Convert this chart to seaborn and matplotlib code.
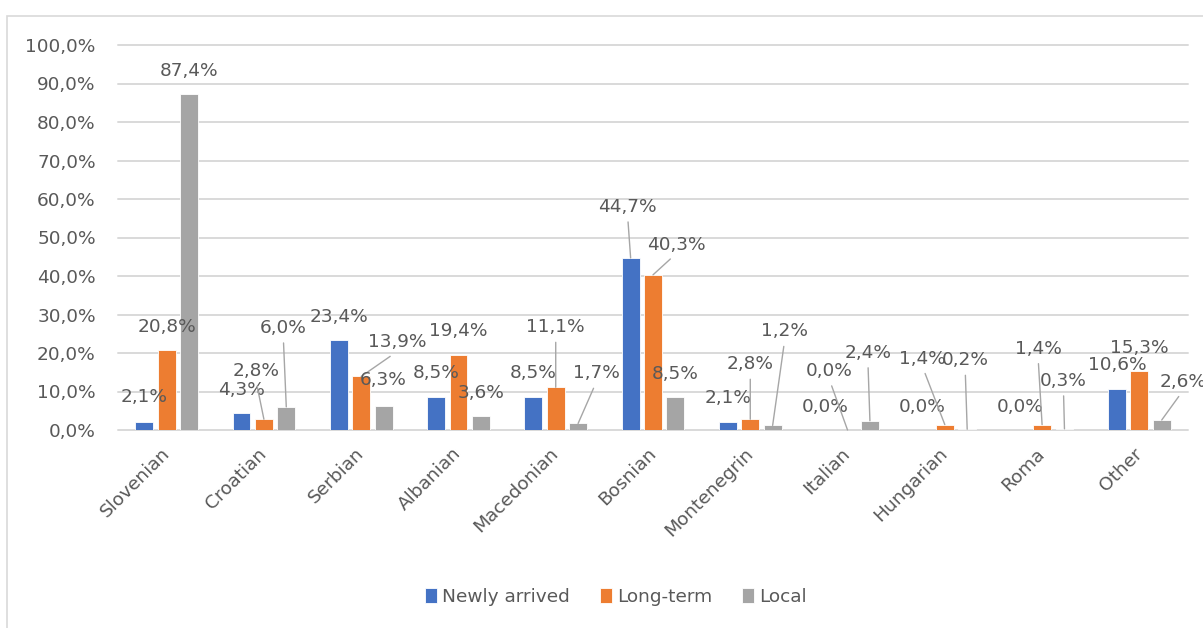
import matplotlib
matplotlib.use("Agg")
import matplotlib.pyplot as plt
from matplotlib.patches import Rectangle
import seaborn as sns
import pandas as pd

# ---- data ----
categories = ["Slovenian", "Croatian", "Serbian", "Albanian", "Macedonian", "Bosnian",
              "Montenegrin", "Italian", "Hungarian", "Roma", "Other"]
series_names = ["Newly arrived", "Long-term", "Local"]
newly_arrived = [2.1, 4.3, 23.4, 8.5, 8.5, 44.7, 2.1, 0.0, 0.0, 0.0, 10.6]
long_term = [20.8, 2.8, 13.9, 19.4, 11.1, 40.3, 2.8, 0.0, 1.4, 1.4, 15.3]
local = [87.4, 6.0, 6.3, 3.6, 1.7, 8.5, 1.2, 2.4, 0.2, 0.3, 2.6]
y_ticks = [0, 10, 20, 30, 40, 50, 60, 70, 80, 90, 100]

# ---- label placement (style: pixel offsets of label centre from bar top, leader flag) ----
label_offsets = {
    "Newly arrived": [(0, 25), (0, 23), (0, 23), (0, 24), (0, 24), (-3, 51), (0, 24), (0, 23), (0, 23), (0, 23), (0, 24)],
    "Long-term":     [(0, 23), (-8, 48), (36, 34), (0, 24), (0, 60), (23, 30), (0, 55), (-18, 59), (-22, 66), (-4, 76), (0, 23)],
    "Local":         [(0, 23), (-3, 79), (0, 26), (0, 23), (18, 50), (0, 23), (12, 94), (-2, 68), (-2, 69), (-1, 48), (21, 38)],
}
leaders = {
    "Newly arrived": [0, 0, 0, 0, 0, 1, 0, 0, 0, 0, 0],
    "Long-term":     [0, 1, 1, 0, 1, 1, 1, 1, 1, 1, 0],
    "Local":         [0, 1, 0, 0, 1, 0, 1, 1, 1, 1, 1],
}

colors = ["#4472C4", "#ED7D31", "#A5A5A5"]
text_color = "#595959"
grid_color = "#D9D9D9"

df = pd.DataFrame({
    "Group": categories * 3,
    "Series": [s for s in series_names for _ in categories],
    "Value": newly_arrived + long_term + local,
})

sns.set_style("white")
plt.rcParams["font.family"] = ["DejaVu Sans"]
FS = 13.3

W, H = 1203, 628
fig = plt.figure(figsize=(W / 100, H / 100), dpi=100)
ax = fig.add_axes([118 / W, 1 - 430 / H, (1188 - 118) / W, (430 - 45) / H])

sns.barplot(data=df, x="Group", y="Value", hue="Series", palette=colors,
            width=0.69, gap=0.2, ax=ax, edgecolor="white", linewidth=0.6,
            saturation=1, errorbar=None)

ax.set_xlim(-0.5, len(categories) - 0.5)
ax.set_ylim(0, 100)
ax.set_yticks(y_ticks)
ax.set_yticklabels([f"{t:.1f}%".replace(".", ",") for t in y_ticks])
ax.set_xlabel("")
ax.set_ylabel("")
ax.set_axisbelow(True)
ax.yaxis.grid(True, color=grid_color, linewidth=1.4)
for gl in ax.get_ygridlines():
    gl.set_clip_on(False)
for sp in ax.spines.values():
    sp.set_visible(False)
ax.tick_params(axis="y", length=0, pad=16, labelsize=FS, labelcolor=text_color)
ax.tick_params(axis="x", length=0, pad=15, labelsize=FS, labelcolor=text_color)
plt.setp(ax.get_xticklabels(), rotation=45, ha="right", va="center", rotation_mode="anchor")

# data labels
for cont, name in zip(ax.containers, series_names):
    for i, patch in enumerate(cont):
        x = patch.get_x() + patch.get_width() / 2
        h = patch.get_height()
        dx, dy = label_offsets[name][i]
        txt = f"{h:.1f}%".replace(".", ",")
        if leaders[name][i]:
            ax.annotate(txt, xy=(x, h), xytext=(dx, dy), textcoords="offset pixels",
                        ha="center", va="center", fontsize=FS, color=text_color,
                        arrowprops=dict(arrowstyle="-", color="#A6A6A6", lw=1.0,
                                        relpos=(0.5, 0.0), shrinkA=2, shrinkB=0),
                        annotation_clip=False)
        else:
            ax.annotate(txt, xy=(x, h), xytext=(dx, dy), textcoords="offset pixels",
                        ha="center", va="center", fontsize=FS, color=text_color,
                        annotation_clip=False)

# legend
handles, labels = ax.get_legend_handles_labels()
if ax.legend_ is not None:
    ax.legend_.remove()
fig.legend(handles, labels, loc="center", bbox_to_anchor=(616 / W, 1 - 597 / H),
           ncol=3, frameon=False, fontsize=FS, labelcolor=text_color,
           handlelength=0.65, handleheight=0.85, handletextpad=0.3, columnspacing=1.6)

# chart border
fig.patches.append(Rectangle((7 / W, -0.1), 2, (628 - 16) / H + 0.1, transform=fig.transFigure,
                             fill=False, edgecolor=grid_color, linewidth=1.2))

fig.savefig("out.png", dpi=100)
